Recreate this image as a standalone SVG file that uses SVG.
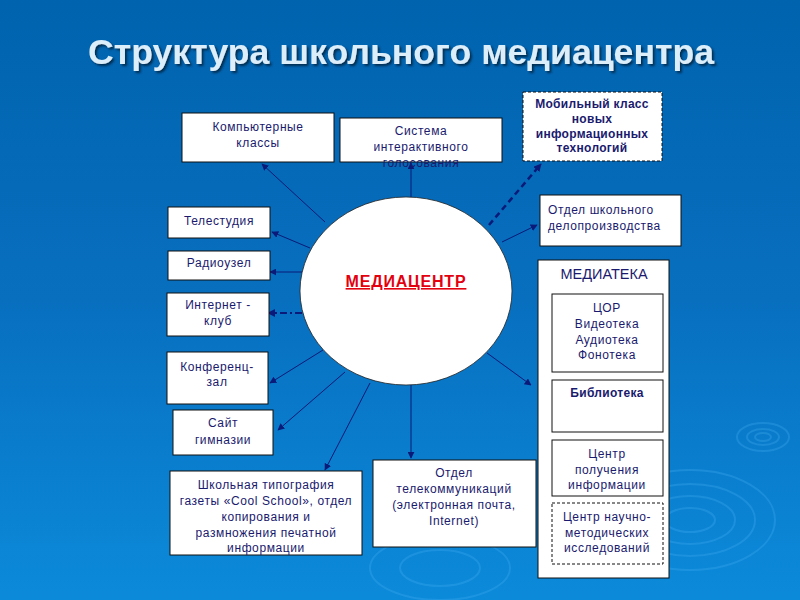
<svg xmlns="http://www.w3.org/2000/svg" width="800" height="600" viewBox="0 0 800 600">
<defs>
<linearGradient id="bg" x1="0" y1="0" x2="0" y2="1">
<stop offset="0" stop-color="#0063ae"/>
<stop offset="0.5" stop-color="#086fbf"/>
<stop offset="1" stop-color="#0c8ada"/>
</linearGradient>
<filter id="shadow" x="-5%" y="-20%" width="110%" height="150%">
<feDropShadow dx="2" dy="2" stdDeviation="0.8" flood-color="#06264a" flood-opacity="0.9"/>
</filter>
<marker id="arr" viewBox="0 0 10 10" refX="9" refY="5" markerWidth="7" markerHeight="7" markerUnits="userSpaceOnUse" orient="auto">
<path d="M0,0 L10,5 L0,10 z" fill="#0b1a78"/>
</marker>
<marker id="arrB" viewBox="0 0 10 10" refX="9" refY="5" markerWidth="8" markerHeight="8" markerUnits="userSpaceOnUse" orient="auto">
<path d="M0,0 L10,5 L0,10 z" fill="#0b1a78"/>
</marker>
</defs>
<style>
.box{fill:#fff;stroke:#111;stroke-width:1}
.dash{fill:#fff;stroke:#111;stroke-width:1;stroke-dasharray:3,2}
.t{font-family:"Liberation Sans",Arial,sans-serif;font-size:12px;fill:#1a1a6e;text-anchor:middle;letter-spacing:0.6px}
.tb{font-family:"Liberation Sans",Arial,sans-serif;font-size:12px;font-weight:bold;fill:#1a1a6e;text-anchor:middle;letter-spacing:0.3px}
.tl{text-anchor:start}
.c{stroke:#0b1a78;stroke-width:1;fill:none;marker-end:url(#arr)}
.rip{fill:none;stroke:#45b0f2;stroke-opacity:0.3;stroke-width:2}
</style>
<rect x="0" y="0" width="800" height="600" fill="url(#bg)"/>
<g id="ripples">
<ellipse class="rip" cx="690" cy="520" rx="25" ry="12"/>
<ellipse class="rip" cx="690" cy="520" rx="45" ry="24"/>
<ellipse class="rip" cx="690" cy="520" rx="65" ry="36" stroke-opacity="0.2"/>
<ellipse class="rip" cx="690" cy="520" rx="85" ry="50" stroke-opacity="0.12"/>
<ellipse class="rip" cx="763" cy="437" rx="8" ry="4"/>
<ellipse class="rip" cx="763" cy="437" rx="16" ry="8"/>
<ellipse class="rip" cx="763" cy="437" rx="26" ry="14" stroke-opacity="0.2"/>
<ellipse class="rip" cx="440" cy="568" rx="40" ry="18" stroke-opacity="0.1"/>
<ellipse class="rip" cx="440" cy="568" rx="70" ry="32" stroke-opacity="0.08"/>
</g>
<g id="title">
<text x="88" y="64" textLength="626" lengthAdjust="spacingAndGlyphs" font-family="Liberation Sans,Arial,sans-serif" font-size="35" font-weight="bold" fill="#dbeefa" filter="url(#shadow)">Структура школьного медиацентра</text>
</g>
<g id="connectors">
<line class="c" x1="325" y1="222" x2="262" y2="164"/>
<line class="c" x1="411" y1="197" x2="411" y2="163"/>
<line x1="489" y1="225" x2="541" y2="164" stroke="#0b1a78" stroke-width="2.5" stroke-dasharray="6,4" marker-end="url(#arrB)"/>
<line class="c" x1="502" y1="242" x2="537" y2="225"/>
<line class="c" x1="310" y1="248" x2="272" y2="232"/>
<line class="c" x1="302" y1="272" x2="270" y2="272"/>
<line x1="302" y1="313" x2="268" y2="313" stroke="#0b1a78" stroke-width="2" stroke-dasharray="7,3,2,3" marker-end="url(#arrB)"/>
<line class="c" x1="323" y1="350" x2="270" y2="383"/>
<line class="c" x1="345" y1="372" x2="278" y2="430"/>
<line class="c" x1="370" y1="383" x2="325" y2="470"/>
<line class="c" x1="411" y1="385" x2="411" y2="458"/>
<line class="c" x1="487" y1="353" x2="531" y2="385"/>
</g>
<g id="mediacenter">
<ellipse cx="406" cy="291" rx="106" ry="94" fill="#fff" stroke="#222" stroke-width="0.8"/>
<text x="406" y="287" font-family="Liberation Sans,Arial,sans-serif" font-size="16" font-weight="bold" fill="#e3000f" text-anchor="middle" text-decoration="underline" letter-spacing="0.8">МЕДИАЦЕНТР</text>
</g>
<g id="comp">
<rect class="box" x="182" y="113" width="152" height="49"/>
<text class="t" x="258" y="131">Компьютерные</text>
<text class="t" x="258" y="147">классы</text>
</g>
<g id="sistema">
<rect class="box" x="340" y="118" width="162" height="44"/>
<text class="t" x="421" y="135">Система</text>
<text class="t" x="421" y="151">интерактивного</text>
<text class="t" x="421" y="167">голосования</text>
</g>
<g id="mobile">
<rect class="dash" x="523" y="92" width="139" height="69"/>
<text class="tb" x="592" y="108">Мобильный класс</text>
<text class="tb" x="592" y="123">новых</text>
<text class="tb" x="592" y="138">информационных</text>
<text class="tb" x="592" y="152">технологий</text>
</g>
<g id="delo">
<rect class="box" x="540" y="195" width="141" height="51"/>
<text class="t tl" x="548" y="214">Отдел школьного</text>
<text class="t tl" x="548" y="230">делопроизводства</text>
</g>
<g id="tele">
<rect class="box" x="168" y="207" width="102" height="31"/>
<text class="t" x="219" y="225">Телестудия</text>
</g>
<g id="radio">
<rect class="box" x="168" y="251" width="102" height="29"/>
<text class="t" x="219" y="267">Радиоузел</text>
</g>
<g id="internet">
<rect class="box" x="167" y="293" width="102" height="43"/>
<text class="t" x="218" y="309">Интернет -</text>
<text class="t" x="218" y="325">клуб</text>
</g>
<g id="konf">
<rect class="box" x="167" y="352" width="101" height="52"/>
<text class="t" x="217" y="371">Конференц-</text>
<text class="t" x="217" y="386">зал</text>
</g>
<g id="sait">
<rect class="box" x="173" y="410" width="100" height="45"/>
<text class="t" x="223" y="427">Сайт</text>
<text class="t" x="223" y="444">гимназии</text>
</g>
<g id="tipografia">
<rect class="box" x="170" y="471" width="192" height="84"/>
<text class="t" x="266" y="489">Школьная типография</text>
<text class="t" x="266" y="505">газеты «Cool School», отдел</text>
<text class="t" x="266" y="521">копирования и</text>
<text class="t" x="266" y="537">размножения печатной</text>
<text class="t" x="266" y="552">информации</text>
</g>
<g id="telecom">
<rect class="box" x="373" y="460" width="163" height="87"/>
<text class="t" x="454" y="477">Отдел</text>
<text class="t" x="454" y="493">телекоммуникаций</text>
<text class="t" x="454" y="509">(электронная почта,</text>
<text class="t" x="454" y="525">Internet)</text>
</g>
<g id="mediateka">
<rect class="box" x="538" y="260" width="131" height="318"/>
<text x="604" y="279" font-family="Liberation Sans,Arial,sans-serif" font-size="14.5" fill="#1a1a6e" text-anchor="middle">МЕДИАТЕКА</text>
</g>
<g id="cor">
<rect class="box" x="552" y="294" width="111" height="78"/>
<text class="t" x="607" y="312">ЦОР</text>
<text class="t" x="607" y="328">Видеотека</text>
<text class="t" x="607" y="344">Аудиотека</text>
<text class="t" x="607" y="359">Фонотека</text>
</g>
<g id="biblioteka">
<rect class="box" x="552" y="380" width="111" height="52"/>
<text class="tb" x="607" y="397">Библиотека</text>
</g>
<g id="centr-poluch">
<rect class="box" x="552" y="440" width="111" height="56"/>
<text class="t" x="607" y="458">Центр</text>
<text class="t" x="607" y="474">получения</text>
<text class="t" x="607" y="489">информации</text>
</g>
<g id="centr-nauch">
<rect class="dash" x="552" y="503" width="111" height="61"/>
<text class="t" x="607" y="521">Центр научно-</text>
<text class="t" x="607" y="537">методических</text>
<text class="t" x="607" y="552">исследований</text>
</g>
</svg>
